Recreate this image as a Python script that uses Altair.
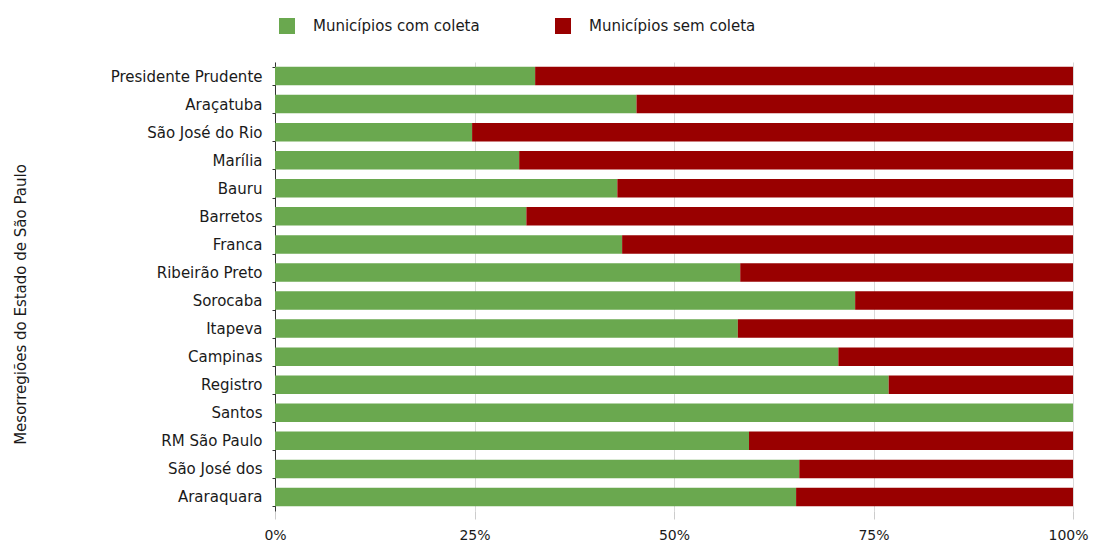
import altair as alt
import pandas as pd

regions = [
    "Presidente Prudente", "Araçatuba", "São José do Rio", "Marília", "Bauru",
    "Barretos", "Franca", "Ribeirão Preto", "Sorocaba", "Itapeva", "Campinas",
    "Registro", "Santos", "RM São Paulo", "São José dos", "Araraquara",
]
com_coleta = [32.6, 45.3, 24.7, 30.6, 42.9, 31.5, 43.5, 58.3, 72.7, 58.0, 70.6, 76.9, 100.0, 59.4, 65.7, 65.3]
sem_coleta = [67.4, 54.7, 75.3, 69.4, 57.1, 68.5, 56.5, 41.7, 27.3, 42.0, 29.4, 23.1, 0.0, 40.6, 34.3, 34.7]
series = ["Municípios com coleta", "Municípios sem coleta"]
colors = ["#6aa84f", "#990000"]
x_ticks = [0, 0.25, 0.5, 0.75, 1.0]

rows = []
for i, r in enumerate(regions):
    rows.append({"regiao": r, "serie": series[0], "valor": com_coleta[i], "ordem": 0})
    rows.append({"regiao": r, "serie": series[1], "valor": sem_coleta[i], "ordem": 1})
df = pd.DataFrame(rows)

FONT = "DejaVu Sans"
TXT = "#1a1a1a"

chart = (
    alt.Chart(df)
    .mark_bar()
    .encode(
        y=alt.Y(
            "regiao:N",
            sort=regions,
            scale=alt.Scale(paddingInner=0.34, paddingOuter=0.17),
            axis=alt.Axis(
                title="Mesorregiões do Estado de São Paulo",
                titleFont=FONT,
                titleFontSize=15,
                titleFontWeight="normal",
                titleColor=TXT,
                titleAngle=-90,
                titleX=-255,
                titleY=242,
                titleAlign="center",
                titleBaseline="middle",
                labelFont=FONT,
                labelFontSize=15,
                labelColor=TXT,
                labelPadding=10,
                domainColor="#333333",
                tickColor="#333333",
                tickSize=3,
                tickBand="extent",
                grid=False,
            ),
        ),
        x=alt.X(
            "valor:Q",
            stack="normalize",
            scale=alt.Scale(domain=[0, 1], nice=False),
            axis=alt.Axis(
                title=None,
                format="%",
                values=x_ticks,
                labelFont=FONT,
                labelFontSize=14,
                labelColor=TXT,
                labelPadding=9,
                labelOffset={"condition": {"test": "datum.value == 1", "value": -5}, "value": 0},
                tickColor="#cccccc",
                tickSize=8,
                domain=False,
                grid=True,
                gridColor="#d9d9d9",
                labelFlush=False,
            ),
        ),
        color=alt.Color(
            "serie:N",
            scale=alt.Scale(domain=series, range=colors),
            legend=alt.Legend(
                title=None,
                orient="none",
                direction="horizontal",
                legendX=4,
                legendY=-44,
                symbolType="square",
                symbolSize=256,
                symbolStrokeWidth=0,
                symbolOpacity=1,
                labelFont=FONT,
                labelFontSize=15,
                labelColor=TXT,
                labelOffset=18,
                labelLimit=400,
                columnPadding=75,
            ),
        ),
        order=alt.Order("ordem:Q"),
    )
    .properties(
        width=798,
        height=449,
        autosize=alt.AutoSizeParams(type="none"),
        padding={"left": 267, "top": 54, "right": 19, "bottom": 40},
    )
    .configure_view(stroke=None)
)

chart.save("out.html", embed_options={"renderer": "svg", "actions": False})
